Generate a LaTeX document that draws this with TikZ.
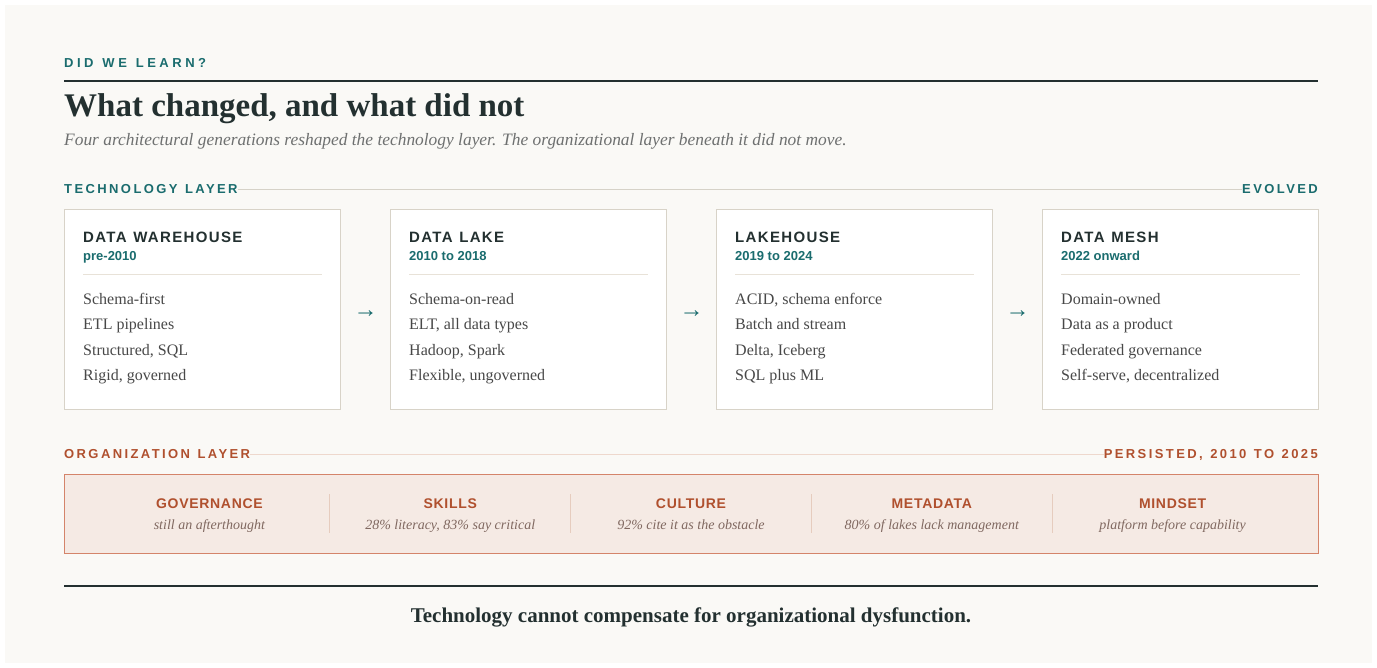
\documentclass[tikz,border=0pt]{standalone}
\usepackage{fontspec}
\setmainfont{Liberation Serif}
\setsansfont{Liberation Sans}
\newfontfamily\kickerfont[LetterSpace=27, WordSpace=1.25]{Liberation Sans}
\newfontfamily\layerfont[LetterSpace=18.5, WordSpace=1.25]{Liberation Sans}
\newfontfamily\cardfont[LetterSpace=9, WordSpace=1.2]{Liberation Sans}
\newfontfamily\orgfont[LetterSpace=5]{Liberation Sans}
\usetikzlibrary{positioning, calc}

\definecolor{pagebg}{RGB}{250, 249, 246}
\definecolor{inkdark}{RGB}{35, 48, 48}
\definecolor{tealdeep}{RGB}{26, 108, 110}
\definecolor{bodygray}{RGB}{72, 72, 72}
\definecolor{subgray}{RGB}{110, 112, 112}
\definecolor{cardline}{RGB}{216, 211, 200}
\definecolor{techrule}{RGB}{214, 210, 200}
\definecolor{cardrule}{RGB}{232, 226, 216}
\definecolor{rustred}{RGB}{176, 80, 46}
\definecolor{orgfill}{RGB}{245, 234, 228}
\definecolor{orgline}{RGB}{212, 132, 106}
\definecolor{orgrule}{RGB}{238, 216, 205}
\definecolor{orgsep}{RGB}{230, 204, 190}
\definecolor{orgnote}{RGB}{128, 104, 96}

\newcommand{\pxsize}[1]{\fontsize{#1}{#1}\selectfont}

\begin{document}
\begin{tikzpicture}[x=1pt, y=-1pt,
  card/.style={draw=cardline, fill=white, line width=1pt, minimum width=276pt, minimum height=200pt, inner sep=0pt, anchor=north west},
  cardhead/.style={anchor=base west, inner sep=0pt, font=\cardfont\bfseries\pxsize{15}, text=inkdark},
  cardera/.style={anchor=base west, inner sep=0pt, font=\sffamily\bfseries\pxsize{13}, text=tealdeep},
  carditem/.style={anchor=base west, inner sep=0pt, font=\pxsize{16}, text=bodygray},
  genarrow/.style={inner sep=0pt, font=\pxsize{24}, text=tealdeep, yshift=-5pt},
  layerlabel/.style={inner sep=0pt, font=\layerfont\bfseries\pxsize{13}},
  orghead/.style={anchor=base, inner sep=0pt, font=\orgfont\bfseries\pxsize{14}, text=rustred},
  orgitem/.style={anchor=base, inner sep=0pt, font=\itshape\pxsize{14}, text=orgnote}]

  \useasboundingbox (0, 0) rectangle (1377, 668);
  \fill[white] (0, 0) rectangle (1377, 668);
  \fill[pagebg] (5, 5) rectangle (1372, 663);

  % Heading
  \node[anchor=base west, inner sep=0pt, font=\kickerfont\bfseries\pxsize{13}, text=tealdeep] (kicker) at (64, 67.5) {DID WE LEARN?};
  \draw[inkdark, line width=1.8pt] (64, 81) -- (1318, 81);
  \node[anchor=base west, inner sep=0pt, font=\bfseries\pxsize{33}, text=inkdark] (title) at (64, 117) {What changed, and what did not};
  \node[anchor=base west, inner sep=0pt, font=\itshape\pxsize{17.4}, text=subgray] (subtitle) at (64, 146) {Four architectural generations reshaped the technology layer. The organizational layer beneath it did not move.};

  % Technology layer
  \node[layerlabel, anchor=base west, text=tealdeep] (techlabel) at (64, 194) {TECHNOLOGY LAYER};
  \node[layerlabel, anchor=base east, text=tealdeep] (evolved) at (1318, 194) {EVOLVED};
  \draw[techrule, line width=0.8pt] (techlabel.east) -- (techlabel.east -| evolved.west);

  \node[card] (dw) at (64, 209) {};
  \node[card] (dl) at (390, 209) {};
  \node[card] (lh) at (716, 209) {};
  \node[card] (dm) at (1042, 209) {};

  % Data warehouse
  \node[cardhead] (dw-head) at ($(dw.north west)+(19, 34)$) {DATA WAREHOUSE};
  \node[cardera] (dw-era) at ($(dw.north west)+(19, 52)$) {pre-2010};
  \draw[cardrule, line width=0.8pt] ($(dw.north west)+(19, 65)$) -- ($(dw.north east)+(-19, 65)$);
  \foreach \t [count=\i from 0] in {Schema-first, ETL pipelines, {Structured, SQL}, {Rigid, governed}}
    \node[carditem] (dw-item\i) at ($(dw.north west)+(19, 95.5+25.5*\i)$) {\t};

  % Data lake
  \node[cardhead] (dl-head) at ($(dl.north west)+(19, 34)$) {DATA LAKE};
  \node[cardera] (dl-era) at ($(dl.north west)+(19, 52)$) {2010 to 2018};
  \draw[cardrule, line width=0.8pt] ($(dl.north west)+(19, 65)$) -- ($(dl.north east)+(-19, 65)$);
  \foreach \t [count=\i from 0] in {Schema-on-read, {ELT, all data types}, {Hadoop, Spark}, {Flexible, ungoverned}}
    \node[carditem] (dl-item\i) at ($(dl.north west)+(19, 95.5+25.5*\i)$) {\t};

  % Lakehouse
  \node[cardhead] (lh-head) at ($(lh.north west)+(19, 34)$) {LAKEHOUSE};
  \node[cardera] (lh-era) at ($(lh.north west)+(19, 52)$) {2019 to 2024};
  \draw[cardrule, line width=0.8pt] ($(lh.north west)+(19, 65)$) -- ($(lh.north east)+(-19, 65)$);
  \foreach \t [count=\i from 0] in {{ACID, schema enforce}, Batch and stream, {Delta, Iceberg}, SQL plus ML}
    \node[carditem] (lh-item\i) at ($(lh.north west)+(19, 95.5+25.5*\i)$) {\t};

  % Data mesh
  \node[cardhead] (dm-head) at ($(dm.north west)+(19, 34)$) {DATA MESH};
  \node[cardera] (dm-era) at ($(dm.north west)+(19, 52)$) {2022 onward};
  \draw[cardrule, line width=0.8pt] ($(dm.north west)+(19, 65)$) -- ($(dm.north east)+(-19, 65)$);
  \foreach \t [count=\i from 0] in {Domain-owned, Data as a product, Federated governance, {Self-serve, decentralized}}
    \node[carditem] (dm-item\i) at ($(dm.north west)+(19, 95.5+25.5*\i)$) {\t};

  % Arrows between generations
  \node[genarrow] (step1) at ($(dw.east)!0.5!(dl.west)$) {→};
  \node[genarrow] (step2) at ($(dl.east)!0.5!(lh.west)$) {→};
  \node[genarrow] (step3) at ($(lh.east)!0.5!(dm.west)$) {→};

  % Organization layer
  \node[layerlabel, anchor=base west, text=rustred] (orglabel) at (64, 458.5) {ORGANIZATION LAYER};
  \node[layerlabel, anchor=base east, text=rustred] (persisted) at (1318, 458.5) {PERSISTED, 2010 TO 2025};
  \draw[orgrule, line width=0.8pt] (orglabel.east) -- (orglabel.east -| persisted.west);

  \node[draw=orgline, fill=orgfill, line width=1pt, minimum width=1254pt, minimum height=79pt, anchor=north west, inner sep=0pt] (org) at (64, 474) {};
  \foreach \x in {329.8, 570.6, 811.4, 1052.2}
    \draw[orgsep, line width=0.8pt] (\x, 494) -- (\x, 533);
  \foreach \h/\n [count=\i from 0] in {GOVERNANCE/still an afterthought, SKILLS/{28\% literacy, 83\% say critical}, CULTURE/92\% cite it as the obstacle, METADATA/80\% of lakes lack management, MINDSET/platform before capability} {
    \node[orghead] (org-head\i) at (209.4+240.8*\i, 508) {\h};
    \node[orgitem] (org-note\i) at (209.4+240.8*\i, 529) {\n};
  }

  % Closing line
  \draw[inkdark, line width=1.8pt] (64, 586) -- (1318, 586);
  \node[anchor=base, inner sep=0pt, font=\bfseries\pxsize{21}, text=inkdark] (closing) at (691, 622) {Technology cannot compensate for organizational dysfunction.};
\end{tikzpicture}
\end{document}
